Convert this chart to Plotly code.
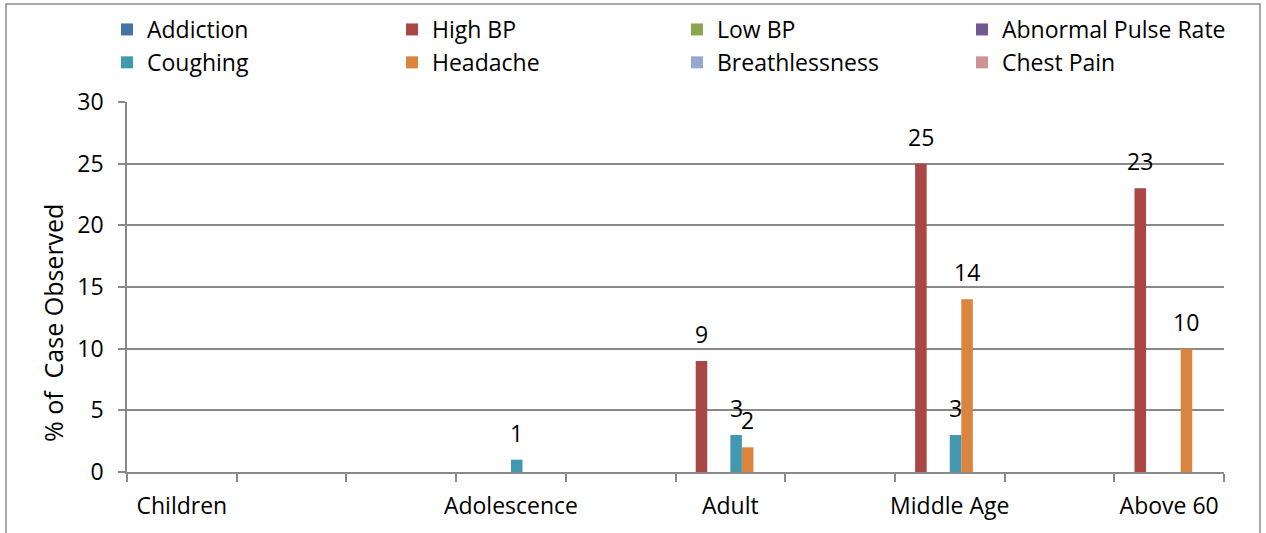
import plotly.graph_objects as go

# ---------------- data ----------------
categories = ["Children", " ", "  ", "Adolescence", "   ", "Adult", "    ", "Middle Age", "     ", "Above 60"]
series_names = ["Addiction", "High BP", "Low BP", "Abnormal Pulse Rate",
                "Coughing", "Headache", "Breathlessness", "Chest Pain"]
addiction      = [None, None, None, None, None, None, None, None, None, None]
high_bp        = [None, None, None, None, None, 9, None, 25, None, 23]
low_bp         = [None, None, None, None, None, None, None, None, None, None]
abnormal_pulse = [None, None, None, None, None, None, None, None, None, None]
coughing       = [None, None, None, 1, None, 3, None, 3, None, None]
headache       = [None, None, None, None, None, 2, None, 14, None, 10]
breathlessness = [None, None, None, None, None, None, None, None, None, None]
chest_pain     = [None, None, None, None, None, None, None, None, None, None]
series_values = [addiction, high_bp, low_bp, abnormal_pulse,
                 coughing, headache, breathlessness, chest_pain]
y_ticks = [0, 5, 10, 15, 20, 25, 30]

# ---------------- styling ----------------
colors = ["#4572A7", "#AA4643", "#89A54E", "#71588F",
          "#4198AF", "#DB843D", "#93A9CF", "#D19392"]
FONT = "Open Sans"
FS = 23
W, H = 1266, 533
M_L, M_R, M_T, M_B = 127, 42, 102, 61
PW, PH = W - M_L - M_R, H - M_T - M_B
BARGAP = 1.5 / 9.5
GRID = "#898989"


def px_x(p):
    return (p - M_L) / PW


def px_y(p):
    return (H - M_B - p) / PH


fig = go.Figure()
for name, vals, col in zip(series_names, series_values, colors):
    fig.add_trace(go.Bar(
        name=name, x=categories, y=vals,
        marker=dict(color=col, line=dict(width=0)),
    ))

# data labels above bars
n = len(series_names)
bar_w = PW / len(categories) * (1 - BARGAP) / n
annotations = []
for k, vals in enumerate(series_values):
    for cat, v in zip(categories, vals):
        if v is None:
            continue
        annotations.append(dict(
            x=cat, y=v, xref="x", yref="y", text=str(v), showarrow=False,
            xanchor="center", yanchor="bottom",
            xshift=(k - (n - 1) / 2) * bar_w, yshift=9,
            font=dict(family=FONT, size=FS, color="#000000"),
        ))

# y-axis title
annotations.append(dict(
    x=px_x(53), y=px_y(323), xref="paper", yref="paper",
    text="% of  Case Observed", textangle=-90, showarrow=False,
    xanchor="center", yanchor="middle",
    font=dict(family=FONT, size=25, color="#000000"),
))

fig.update_layout(
    template="none",
    width=W, height=H,
    margin=dict(l=M_L, r=M_R, t=M_T, b=M_B, pad=0, autoexpand=False),
    paper_bgcolor="#ffffff", plot_bgcolor="#ffffff",
    barmode="group", bargap=BARGAP, bargroupgap=0,
    font=dict(family=FONT, size=FS, color="#000000"),
    showlegend=True,
    legend=dict(
        orientation="h", x=px_x(107), y=px_y(8), xanchor="left", yanchor="top",
        entrywidth=240, entrywidthmode="pixels",
        font=dict(family=FONT, size=FS, color="#000000"),
        bgcolor="rgba(0,0,0,0)", traceorder="normal",
    ),
    xaxis=dict(
        type="category", categoryorder="array", categoryarray=categories,
        range=[-0.5, len(categories) - 0.5], automargin=False,
        showline=True, linecolor=GRID, linewidth=1.5,
        ticks="outside", tickson="boundaries", ticklen=8, tickcolor=GRID, tickwidth=1.5,
        showgrid=False, zeroline=False, ticklabelstandoff=13, tickangle=0,
        tickfont=dict(family=FONT, size=FS, color="#000000"),
    ),
    yaxis=dict(
        range=[0, 30], tickmode="array", tickvals=y_ticks, automargin=False,
        showline=True, linecolor=GRID, linewidth=1.5,
        ticks="outside", ticklen=7, tickcolor=GRID, tickwidth=1.5,
        showgrid=True, gridcolor=GRID, gridwidth=1.5, zeroline=False,
        ticklabelstandoff=10,
        tickfont=dict(family=FONT, size=FS, color="#000000"),
    ),
    annotations=annotations,
    shapes=[dict(
        type="rect", xref="paper", yref="paper",
        x0=px_x(6), x1=px_x(1260), y0=px_y(545), y1=px_y(4),
        line=dict(color="#8c8c8c", width=1.5), fillcolor="rgba(0,0,0,0)",
        layer="above",
    )],
)

fig.write_html(
    "out.html",
    config={"displayModeBar": False},
    post_script="document.body.style.margin='0';document.body.style.overflow='hidden';",
)
